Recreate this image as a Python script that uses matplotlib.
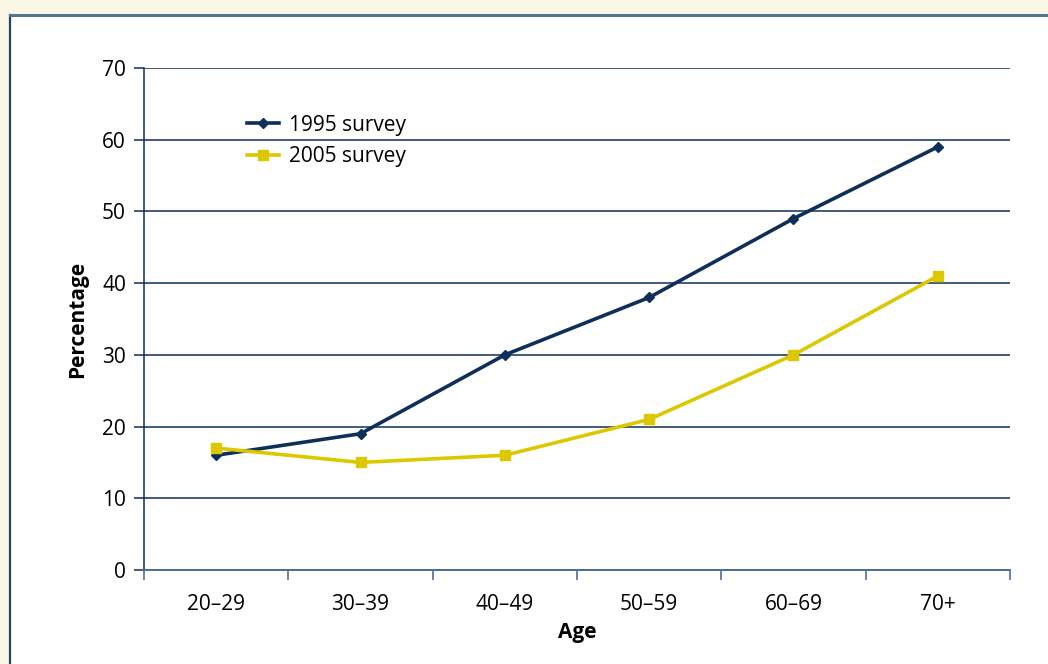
import matplotlib
matplotlib.use("Agg")
import matplotlib.pyplot as plt
from matplotlib.patches import Rectangle
from matplotlib.lines import Line2D

plt.rcParams['font.family'] = ['Open Sans', 'DejaVu Sans']

age_groups = ["20–29", "30–39", "40–49", "50–59", "60–69", "70+"]
survey_1995 = [16, 19, 30, 38, 49, 59]
survey_2005 = [17, 15, 16, 21, 30, 41]
y_ticks = [0, 10, 20, 30, 40, 50, 60, 70]

navy = "#0E2F5A"
yellow = "#DCC800"
axis_grey = "#4F6E93"
fs = 15

fig = plt.figure(figsize=(10.48, 6.64), dpi=100)
fig.patch.set_facecolor("#FBF7E5")

# white panel with a dark border on the left and top
W, H = 1048, 664
panel = Rectangle((10 / W, 0), 1.0, 1 - 15 / H, transform=fig.transFigure,
                  facecolor="white", edgecolor="none", zorder=-5)
fig.patches.append(panel)
fig.add_artist(Line2D([10 / W, 10 / W], [0, 1 - 15 / H], transform=fig.transFigure,
                      color="#1F4470", lw=1.6, zorder=-4))
fig.add_artist(Line2D([10 / W, 1], [1 - 15 / H, 1 - 15 / H], transform=fig.transFigure,
                      color="#557392", lw=2.2, zorder=-4))

ax = fig.add_axes([144 / W, 1 - 570 / H, (1010 - 144) / W, (570 - 68) / H])
ax.set_facecolor("white")

x = [i + 0.5 for i in range(len(age_groups))]
ax.plot(x, survey_1995, color=navy, lw=2.6, marker="D", markersize=5.5,
        label="1995 survey", zorder=3)
ax.plot(x, survey_2005, color=yellow, lw=2.6, marker="s", markersize=7,
        label="2005 survey", zorder=3)

ax.set_xlim(0, len(age_groups))
ax.set_ylim(0, 70)
ax.set_yticks(y_ticks)
ax.set_yticklabels([str(v) for v in y_ticks], fontsize=fs)
ax.yaxis.grid(True, color=navy, lw=1.1)
ax.set_axisbelow(True)

ax.set_xticks(range(len(age_groups) + 1))
ax.set_xticklabels([])
ax.set_xticks(x, minor=True)
ax.set_xticklabels(age_groups, minor=True, fontsize=fs)
ax.tick_params(axis="x", which="minor", length=0, pad=17)
ax.tick_params(axis="x", which="major", length=7, color=axis_grey, width=1.2)
ax.tick_params(axis="y", length=7, color=navy, width=1.1, pad=6)

for side in ("top", "right"):
    ax.spines[side].set_visible(False)
ax.spines["left"].set_color(navy)
ax.spines["left"].set_linewidth(1.1)
ax.spines["bottom"].set_color(axis_grey)
ax.spines["bottom"].set_linewidth(1.4)

ax.set_ylabel("Percentage", fontsize=fs, fontweight="bold", labelpad=10)
ax.set_xlabel("Age", fontsize=fs, fontweight="bold", labelpad=5)

leg = ax.legend(loc="upper left", bbox_to_anchor=(0.119, 0.907), frameon=False,
                fontsize=fs, handlelength=1.55, labelspacing=0.5, handletextpad=0.45,
                borderpad=0, borderaxespad=0)

fig.savefig("out.png", dpi=100, facecolor=fig.get_facecolor())
